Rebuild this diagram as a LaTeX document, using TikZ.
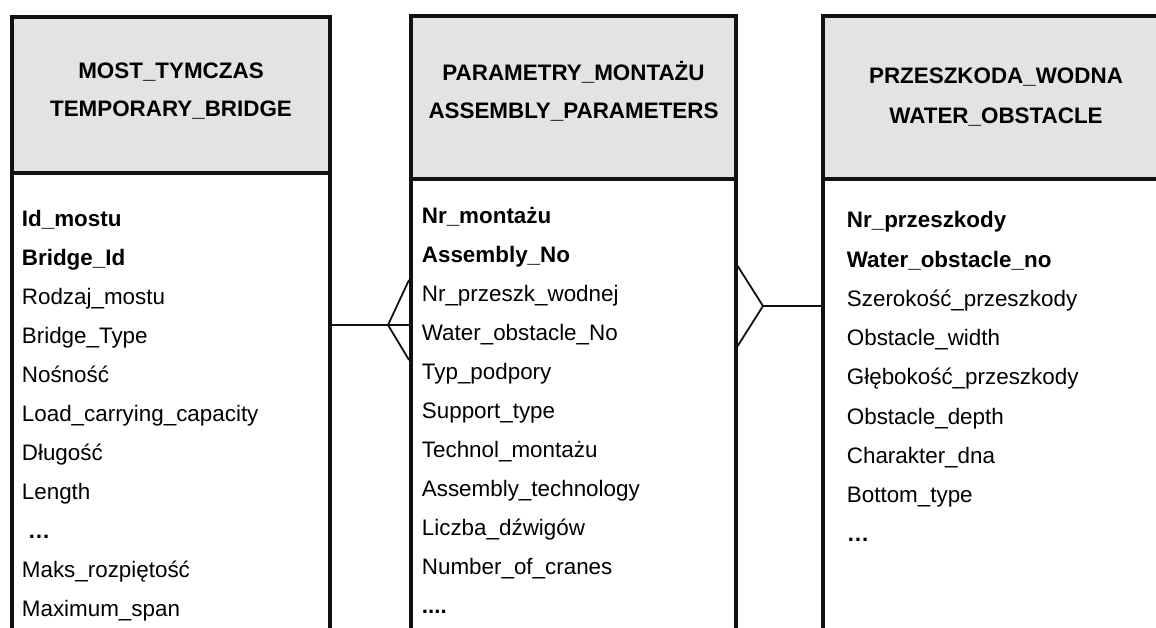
\documentclass[tikz,border=0pt]{standalone}
\usepackage{fontspec}
\setmainfont{Liberation Sans}
\definecolor{hdrgray}{RGB}{228,227,226}
\definecolor{ink}{RGB}{17,17,17}
\begin{document}
\begin{tikzpicture}[x=1pt,y=-1pt,
  tbl/.style={draw=ink, line width=4pt, rectangle, inner sep=0pt, outer sep=0pt},
  hdr/.style={tbl, fill=hdrgray},
  bodybox/.style={tbl, fill=white},
  htext/.style={font=\fontsize{22.4}{27}\selectfont\bfseries, anchor=base, inner sep=0pt},
  ftext/.style={font=\fontsize{22.4}{27}\selectfont, anchor=base west, inner sep=0pt},
  conn/.style={draw=ink, line width=1.8pt}]
\useasboundingbox (0,0) rectangle (1156,628);
\clip (0,0) rectangle (1156,628);
% table 1
\node[bodybox, minimum width=318pt, minimum height=507pt] (t1b) at (171,426.5) {};
\node[hdr, minimum width=318pt, minimum height=156pt] (t1h) at (171,95) {};
% table 2
\node[bodybox, minimum width=325pt, minimum height=500.5pt] (t2b) at (573.5,429.75) {};
\node[hdr, minimum width=325pt, minimum height=163.8pt] (t2h) at (573.5,97.6) {};
% table 3
\node[bodybox, minimum width=346pt, minimum height=500.5pt] (t3b) at (996,429.75) {};
\node[hdr, minimum width=346pt, minimum height=163.5pt] (t3h) at (996,97.75) {};
% headers
\node[htext] (t1n1) at (171,78.3) {MOST\_TYMCZAS};
\node[htext] (t1n2) at (171,116.7) {TEMPORARY\_BRIDGE};
\node[htext] (t2n1) at (573.5,80.7) {PARAMETRY\_MONTAŻU};
\node[htext] (t2n2) at (573.5,119) {ASSEMBLY\_PARAMETERS};
\node[htext] (t3n1) at (996,83.3) {PRZESZKODA\_WODNA};
\node[htext] (t3n2) at (996,123.3) {WATER\_OBSTACLE};
% fields
\foreach \t [count=\i from 0] in {\textbf{Id\_mostu}, \textbf{Bridge\_Id}, Rodzaj\_mostu, Bridge\_Type, Nośność, Load\_carrying\_capacity, Długość, Length, {\hspace*{6pt}\textbf{…}}, Maks\_rozpiętość, Maximum\_span}
  \node[ftext] (a\i) at (21.7,{226.5+39*\i}) {\t};
\foreach \t [count=\i from 0] in {\textbf{Nr\_montażu}, \textbf{Assembly\_No}, Nr\_przeszk\_wodnej, Water\_obstacle\_No, Typ\_podpory, Support\_type, Technol\_montażu, Assembly\_technology, Liczba\_dźwigów, Number\_of\_cranes, \textbf{....}}
  \node[ftext] (b\i) at (421.7,{224+38.9*\i}) {\t};
\foreach \t [count=\i from 0] in {\textbf{Nr\_przeszkody}, \textbf{Water\_obstacle\_no}, Szerokość\_przeszkody, Obstacle\_width, Głębokość\_przeszkody, Obstacle\_depth, Charakter\_dna, Bottom\_type, \textbf{…}}
  \node[ftext] (c\i) at (846.7,{228+39.2*\i}) {\t};
% connector 1 (crow's foot at table 2)
\coordinate (v1) at (388,325);
\coordinate (f1a) at (409,280);
\coordinate (f1b) at (409,360);
\draw[conn] (t1b.east |- v1) -- (v1) -- (t2b.west |- v1);
\draw[conn] (f1a) -- (v1) -- (f1b);
% connector 2 (crow's foot at table 2)
\coordinate (v2) at (763,306);
\coordinate (f2a) at (737,265);
\coordinate (f2b) at (737,347);
\draw[conn] (v2) -- (t3b.west |- v2);
\draw[conn] (f2a) -- (v2) -- (f2b);
\end{tikzpicture}
\end{document}
